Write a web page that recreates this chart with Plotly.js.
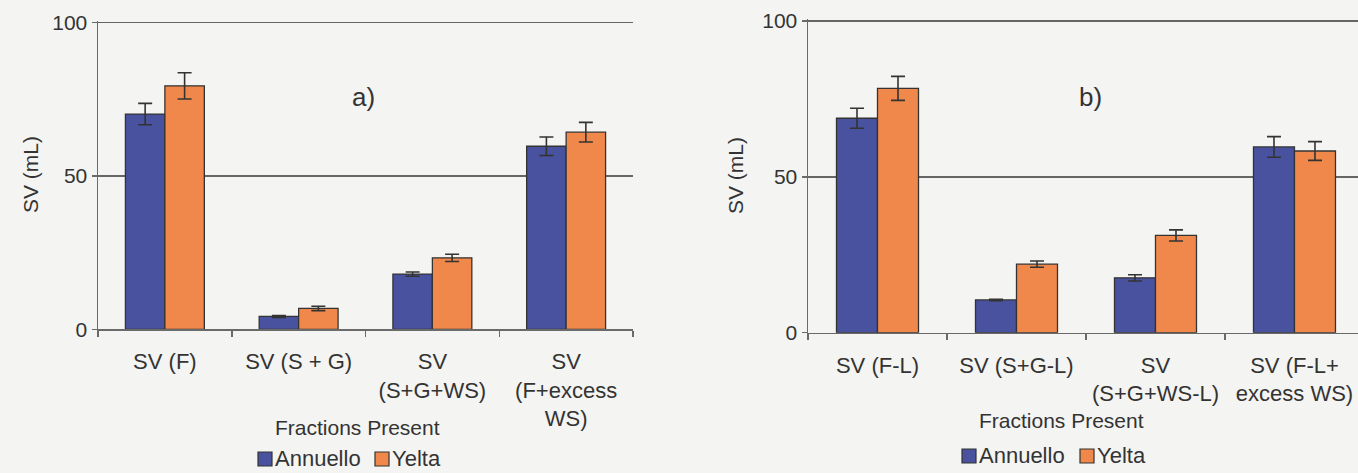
<!DOCTYPE html>
<html>
<head>
<meta charset="utf-8">
<script src="https://cdn.plot.ly/plotly-3.0.1.min.js"></script>
<style>html,body{margin:0;padding:0;background:#f4f4f2;}#chart{width:1358px;height:473px;}</style>
</head>
<body>
<div id="chart"></div>
<script>
// ----- data -----
const seriesNames = ["Annuello", "Yelta"];

const catsA = ["SV (F)", "SV (S + G)", "SV<br>(S+G+WS)", "SV<br>(F+excess<br>WS)"];
const annuelloA = [70.2, 4.2, 18.0, 59.7];
const annuelloAErr = [3.5, 0.3, 0.7, 3.0];
const yeltaA = [79.4, 6.8, 23.3, 64.3];
const yeltaAErr = [4.3, 0.7, 1.2, 3.2];

const catsB = ["SV (F-L)", "SV (S+G-L)", "SV<br>(S+G+WS-L)", "SV (F-L+<br>excess WS)"];
const annuelloB = [68.8, 10.5, 17.6, 59.6];
const annuelloBErr = [3.2, 0.2, 1.0, 3.3];
const yeltaB = [78.4, 22.0, 31.2, 58.3];
const yeltaBErr = [3.85, 1.0, 1.8, 3.0];

const yTicks = [0, 50, 100];
const panelTitles = ["a)", "b)"];
const xTitle = "Fractions Present";
const yTitle = "SV (mL)";

// ----- styles -----
const W = 1358, H = 473;
const blue = "rgb(72,82,158)";
const orange = "rgb(240,136,76)";
const ink = "#333333";
const font = "Liberation Sans, Arial, sans-serif";

function bar(name, x, y, err, color, xa, ya) {
  return {
    type: "bar", name: name, x: x, y: y,
    xaxis: xa, yaxis: ya, showlegend: false,
    marker: {color: color, line: {color: ink, width: 1.3}},
    error_y: {type: "data", array: err, visible: true, color: ink, thickness: 1.6, width: 7}
  };
}

const traces = [
  bar(seriesNames[0], catsA, annuelloA, annuelloAErr, blue, "x", "y"),
  bar(seriesNames[1], catsA, yeltaA, yeltaAErr, orange, "x", "y"),
  bar(seriesNames[0], catsB, annuelloB, annuelloBErr, blue, "x2", "y2"),
  bar(seriesNames[1], catsB, yeltaB, yeltaBErr, orange, "x2", "y2")
];

const px = v => v / W;
const py = v => (H - v) / H;
const YMAX = 100.6;

function xaxis(domain, range, standoff) {
  return {
    domain: domain, range: range, type: "category",
    showline: true, linecolor: "#6a6a6a", linewidth: 1.5,
    ticks: "outside", tickson: "boundaries", ticklen: 6, tickcolor: "#6a6a6a", tickwidth: 1.5,
    ticklabelstandoff: standoff,
    tickfont: {family: font, size: 22, color: ink},
    showgrid: false, zeroline: false, fixedrange: true
  };
}
function yaxis(y0px, y100px, anchor) {
  const per = (y0px - y100px) / 100;
  return {
    domain: [py(y0px), py(y100px - (YMAX - 100) * per)], range: [0, YMAX], anchor: anchor,
    tickvals: yTicks, ticktext: yTicks.map(String),
    showline: true, linecolor: "#6a6a6a", linewidth: 1.5,
    ticks: "outside", ticklen: 5, tickcolor: "#6a6a6a", tickwidth: 1.5,
    tickfont: {family: font, size: 21, color: ink},
    showgrid: true, gridcolor: "#666666", gridwidth: 1.5,
    zeroline: false, fixedrange: true
  };
}

const ann = (text, x, y, size, extra) => Object.assign({
  text: text, xref: "paper", yref: "paper", x: px(x), y: py(y),
  xanchor: "center", yanchor: "middle", showarrow: false, borderpad: 0,
  font: {family: font, size: size, color: ink}
}, extra || {});

// manual legends (symbol square + label)
const legendSpots = [
  {y: 458, items: [[258, 274], [375, 391]]},
  {y: 455, items: [[962, 978], [1080, 1096]]}
];
const legendShapes = [];
const legendAnns = [];
legendSpots.forEach(spot => {
  spot.items.forEach((it, i) => {
    legendShapes.push({
      type: "rect", xref: "paper", yref: "paper",
      x0: px(it[0]), x1: px(it[0] + 14), y0: py(spot.y + 8), y1: py(spot.y - 6),
      fillcolor: i === 0 ? blue : orange, line: {color: ink, width: 1.2}
    });
    legendAnns.push(ann(seriesNames[i], it[1], spot.y, 22, {xanchor: "left"}));
  });
});

const layout = {
  width: W, height: H,
  margin: {l: 0, r: 0, t: 0, b: 0},
  paper_bgcolor: "#f4f4f2", plot_bgcolor: "rgba(0,0,0,0)",
  barmode: "group", bargap: 0.41, bargroupgap: 0,
  xaxis: Object.assign(xaxis([px(98), px(633)], [-0.5, 3.5], 12), {anchor: "y"}),
  yaxis: yaxis(329.3, 22.7, "x"),
  xaxis2: Object.assign(xaxis([px(808), 1], [-0.5, 3.457], 12), {anchor: "y2"}),
  yaxis2: yaxis(332.7, 21, "x2"),
  showlegend: false,
  shapes: legendShapes,
  annotations: [
    ann(panelTitles[0], 363, 97, 26),
    ann(panelTitles[1], 1090, 97, 26),
    ann(xTitle, 357, 427, 21),
    ann(xTitle, 1061, 420, 21),
    ann(yTitle, 30, 175, 21, {textangle: -90}),
    ann(yTitle, 735, 176, 21, {textangle: -90})
  ].concat(legendAnns)
};

Plotly.newPlot("chart", traces, layout, {displayModeBar: false, staticPlot: true});
</script>
</body>
</html>
